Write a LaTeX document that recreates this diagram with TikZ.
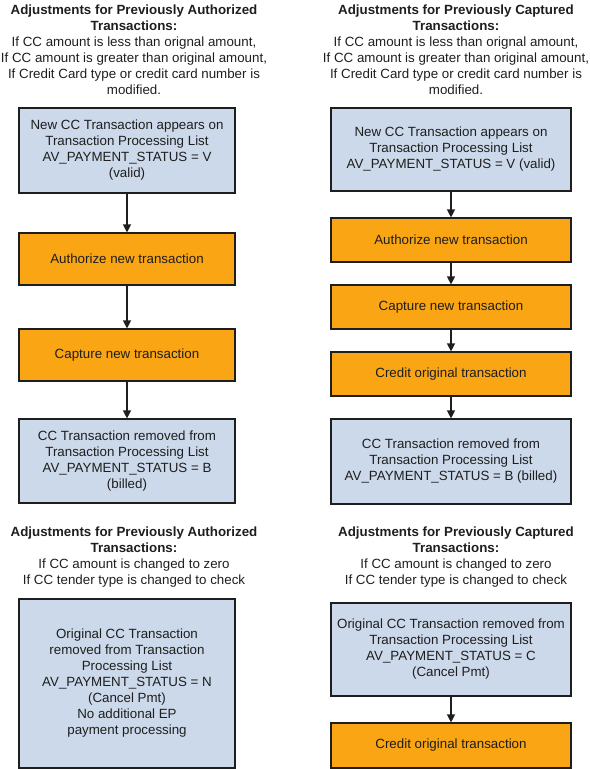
\documentclass[tikz,border=0pt]{standalone}
\usepackage{fontspec}
\setmainfont{Liberation Sans}
\usetikzlibrary{arrows.meta}

\definecolor{boxblue}{RGB}{204,217,234}
\definecolor{boxorange}{RGB}{250,165,20}
\definecolor{linegray}{RGB}{30,30,30}

\begin{document}
\begin{tikzpicture}[x=0.75pt, y=-0.75pt,
                every node/.style={font=\fontsize{10}{12}\selectfont, align=center, text=linegray},
                heading/.style={inner sep=0pt},
                info box/.style={rectangle, draw=linegray, line width=0.9pt, fill=boxblue, inner sep=2pt},
                action box/.style={rectangle, draw=linegray, line width=0.9pt, fill=boxorange, inner sep=2pt},
                left col/.style={minimum width=162pt},
                right col/.style={minimum width=180pt},
                flow arrow/.style={draw=linegray, line width=1pt, -{Triangle[length=6pt, width=6pt]}}
]
    \useasboundingbox (0,0) rectangle (590,769);

    % Left column, previously authorized
        \node[heading] (lhead) at (134,49.5) {\textbf{Adjustments for Previously Authorized}\\ \textbf{Transactions:}\\ If CC amount is less than orignal amount,\\ If CC amount is greater than original amount,\\ If Credit Card type or credit card number is\\ modified.};
        \node[info box, left col, minimum height=63.75pt] (lnew) at (127,150.5) {New CC Transaction appears on\\ Transaction Processing List\\ AV\_PAYMENT\_STATUS = V\\ (valid)};
        \node[action box, left col, minimum height=39pt] (lauth) at (127,259) {Authorize new transaction};
        \node[action box, left col, minimum height=39pt] (lcap) at (127,355) {Capture new transaction};
        \node[info box, left col, minimum height=63pt] (lrem) at (127,461) {CC Transaction removed from\\ Transaction Processing List\\ AV\_PAYMENT\_STATUS = B\\ (billed)};

    % Right column, previously captured
        \node[heading] (rhead) at (456,49.5) {\textbf{Adjustments for Previously Captured}\\ \textbf{Transactions:}\\ If CC amount is less than orignal amount,\\ If CC amount is greater than original amount,\\ If Credit Card type or credit card number is\\ modified.};
        \node[info box, right col, minimum height=62.25pt] (rnew) at (451,149.5) {New CC Transaction appears on\\ Transaction Processing List\\ AV\_PAYMENT\_STATUS = V (valid)};
        \node[action box, right col, minimum height=33pt] (rauth) at (451,240) {Authorize new transaction};
        \node[action box, right col, minimum height=33pt] (rcap) at (451,307) {Capture new transaction};
        \node[action box, right col, minimum height=33pt] (rcred) at (451,374) {Credit original transaction};
        \node[info box, right col, minimum height=63.75pt] (rrem) at (451,461.5) {CC Transaction removed from\\ Transaction Processing List\\ AV\_PAYMENT\_STATUS = B (billed)};

    % Bottom left, changed to zero or check
        \node[heading] (lhead2) at (134,557) {\textbf{Adjustments for Previously Authorized}\\ \textbf{Transactions:}\\ If CC amount is changed to zero\\ If CC tender type is changed to check};
        \node[info box, left col, minimum height=126.75pt] (lorig) at (127,683.5) {Original CC Transaction\\ removed from Transaction\\ Processing List\\ AV\_PAYMENT\_STATUS = N\\ (Cancel Pmt)\\ No additional EP\\ payment processing};

    % Bottom right, changed to zero or check
        \node[heading] (rhead2) at (456,557) {\textbf{Adjustments for Previously Captured}\\ \textbf{Transactions:}\\ If CC amount is changed to zero\\ If CC tender type is changed to check};
        \node[info box, right col, minimum height=69.75pt] (rorig) at (451,649.5) {Original CC Transaction removed from\\ Transaction Processing List\\ AV\_PAYMENT\_STATUS = C\\ (Cancel Pmt)};
        \node[action box, right col, minimum height=33.75pt] (rcred2) at (451,745.5) {Credit original transaction};

    % Arrows
        \draw[flow arrow] (lnew) -- (lauth);
        \draw[flow arrow] (lauth) -- (lcap);
        \draw[flow arrow] (lcap) -- (lrem);
        \draw[flow arrow] (rnew) -- (rauth);
        \draw[flow arrow] (rauth) -- (rcap);
        \draw[flow arrow] (rcap) -- (rcred);
        \draw[flow arrow] (rcred) -- (rrem);
        \draw[flow arrow] (rorig) -- (rcred2);
\end{tikzpicture}
\end{document}
